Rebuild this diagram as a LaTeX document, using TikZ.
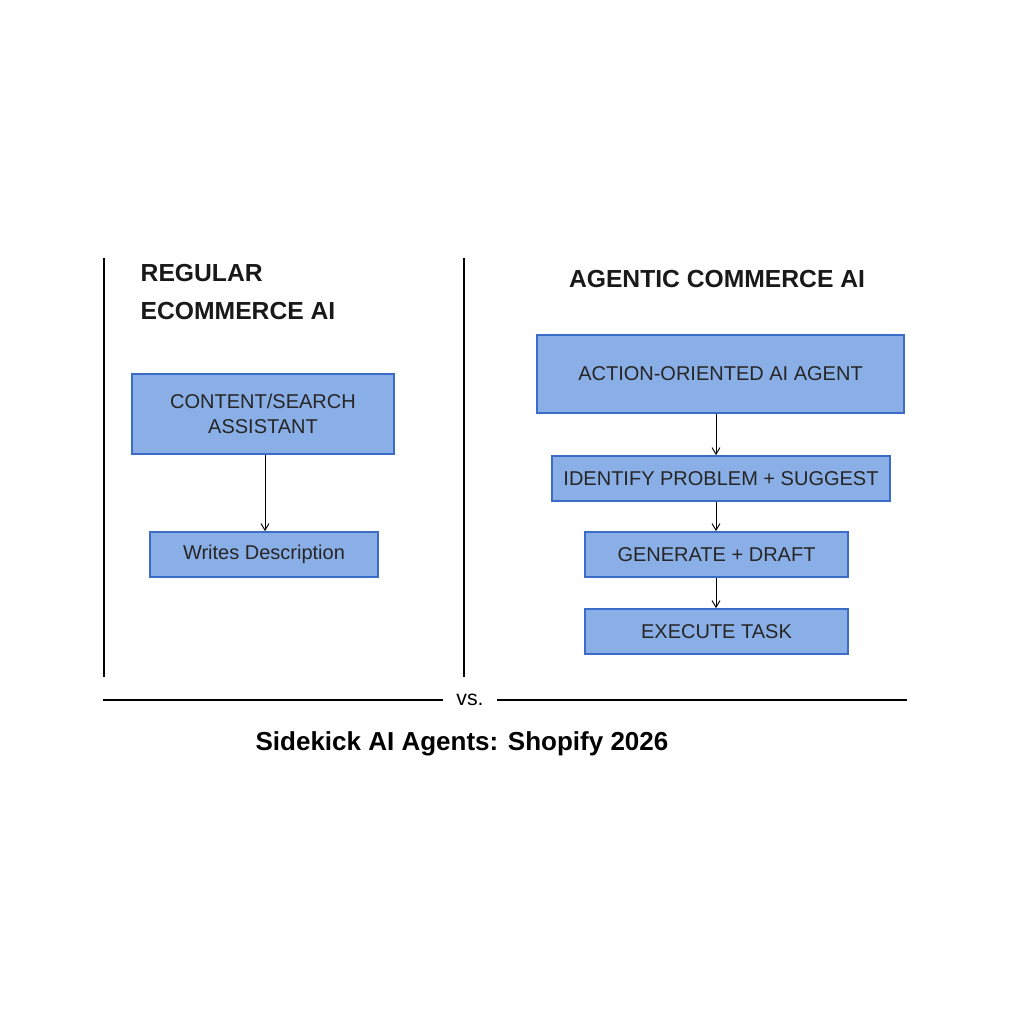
\documentclass[tikz,border=0pt]{standalone}
\usepackage{fontspec}
\setmainfont{Liberation Sans}
\usetikzlibrary{arrows.meta}
\definecolor{bfill}{HTML}{8AAEE6}
\definecolor{bdraw}{HTML}{3A6CC8}
\begin{document}
\begin{tikzpicture}[x=0.75pt,y=-0.75pt,
 box/.style={draw=bdraw,line width=1.3pt,fill=bfill,inner sep=0pt,font=\fontsize{15}{19}\selectfont,align=center,text=black!85},
 arr/.style={-{Straight Barb[length=5pt,width=6pt]},line width=0.7pt},
 rule/.style={line width=1pt},
 head/.style={font=\bfseries\fontsize{18.5}{28}\selectfont,text=black!90}]
\useasboundingbox (0,0) rectangle (1024,1024);
\fill[white] (0,0) rectangle (1024,1024);
\coordinate (l1t) at (104,258); \coordinate (l1b) at (104,677);
\coordinate (l2t) at (464,258); \coordinate (l2b) at (464,677);
\draw[rule] (l1t)--(l1b); \draw[rule] (l2t)--(l2b);
\node[head,anchor=west,align=left] (h1) at (136,292) {REGULAR\\ECOMMERCE AI};
\node[head] (h2) at (717,279) {AGENTIC COMMERCE AI};
\node[box,minimum width=262*0.75pt,minimum height=80*0.75pt] (b1) at (263,414) {CONTENT/SEARCH\\ASSISTANT};
\node[box,minimum width=228*0.75pt,minimum height=45*0.75pt] (b2) at (264,554.5) {Writes Description};
\node[box,minimum width=367*0.75pt,minimum height=78*0.75pt] (a) at (720.5,374) {ACTION-ORIENTED AI AGENT};
\node[box,minimum width=338*0.75pt,minimum height=45*0.75pt] (b) at (721,478.5) {IDENTIFY PROBLEM + SUGGEST};
\node[box,minimum width=263*0.75pt,minimum height=45*0.75pt] (c) at (716.5,554.5) {GENERATE + DRAFT};
\node[box,minimum width=263*0.75pt,minimum height=45*0.75pt] (d) at (716.5,631.5) {EXECUTE TASK};
\draw[arr] (b1.south -| 265,0) -- (b2.north -| 265,0);
\draw[arr] (a.south -| 716,0) -- (b.north -| 716,0);
\draw[arr] (b.south -| 716,0) -- (c.north -| 716,0);
\draw[arr] (c.south -| 716,0) -- (d.north -| 716,0);
\node[font=\fontsize{16}{20}\selectfont,inner sep=10pt] (vs) at (470,700) {vs.};
\coordinate (r1) at (103,700); \coordinate (r2) at (907,700);
\draw[rule] (r1) -- (vs.west); \draw[rule] (vs.east) -- (r2);
\node[font=\bfseries\fontsize{19.5}{24}\selectfont] (t) at (462,744) {Sidekick AI Agents: Shopify 2026};
\end{tikzpicture}
\end{document}
